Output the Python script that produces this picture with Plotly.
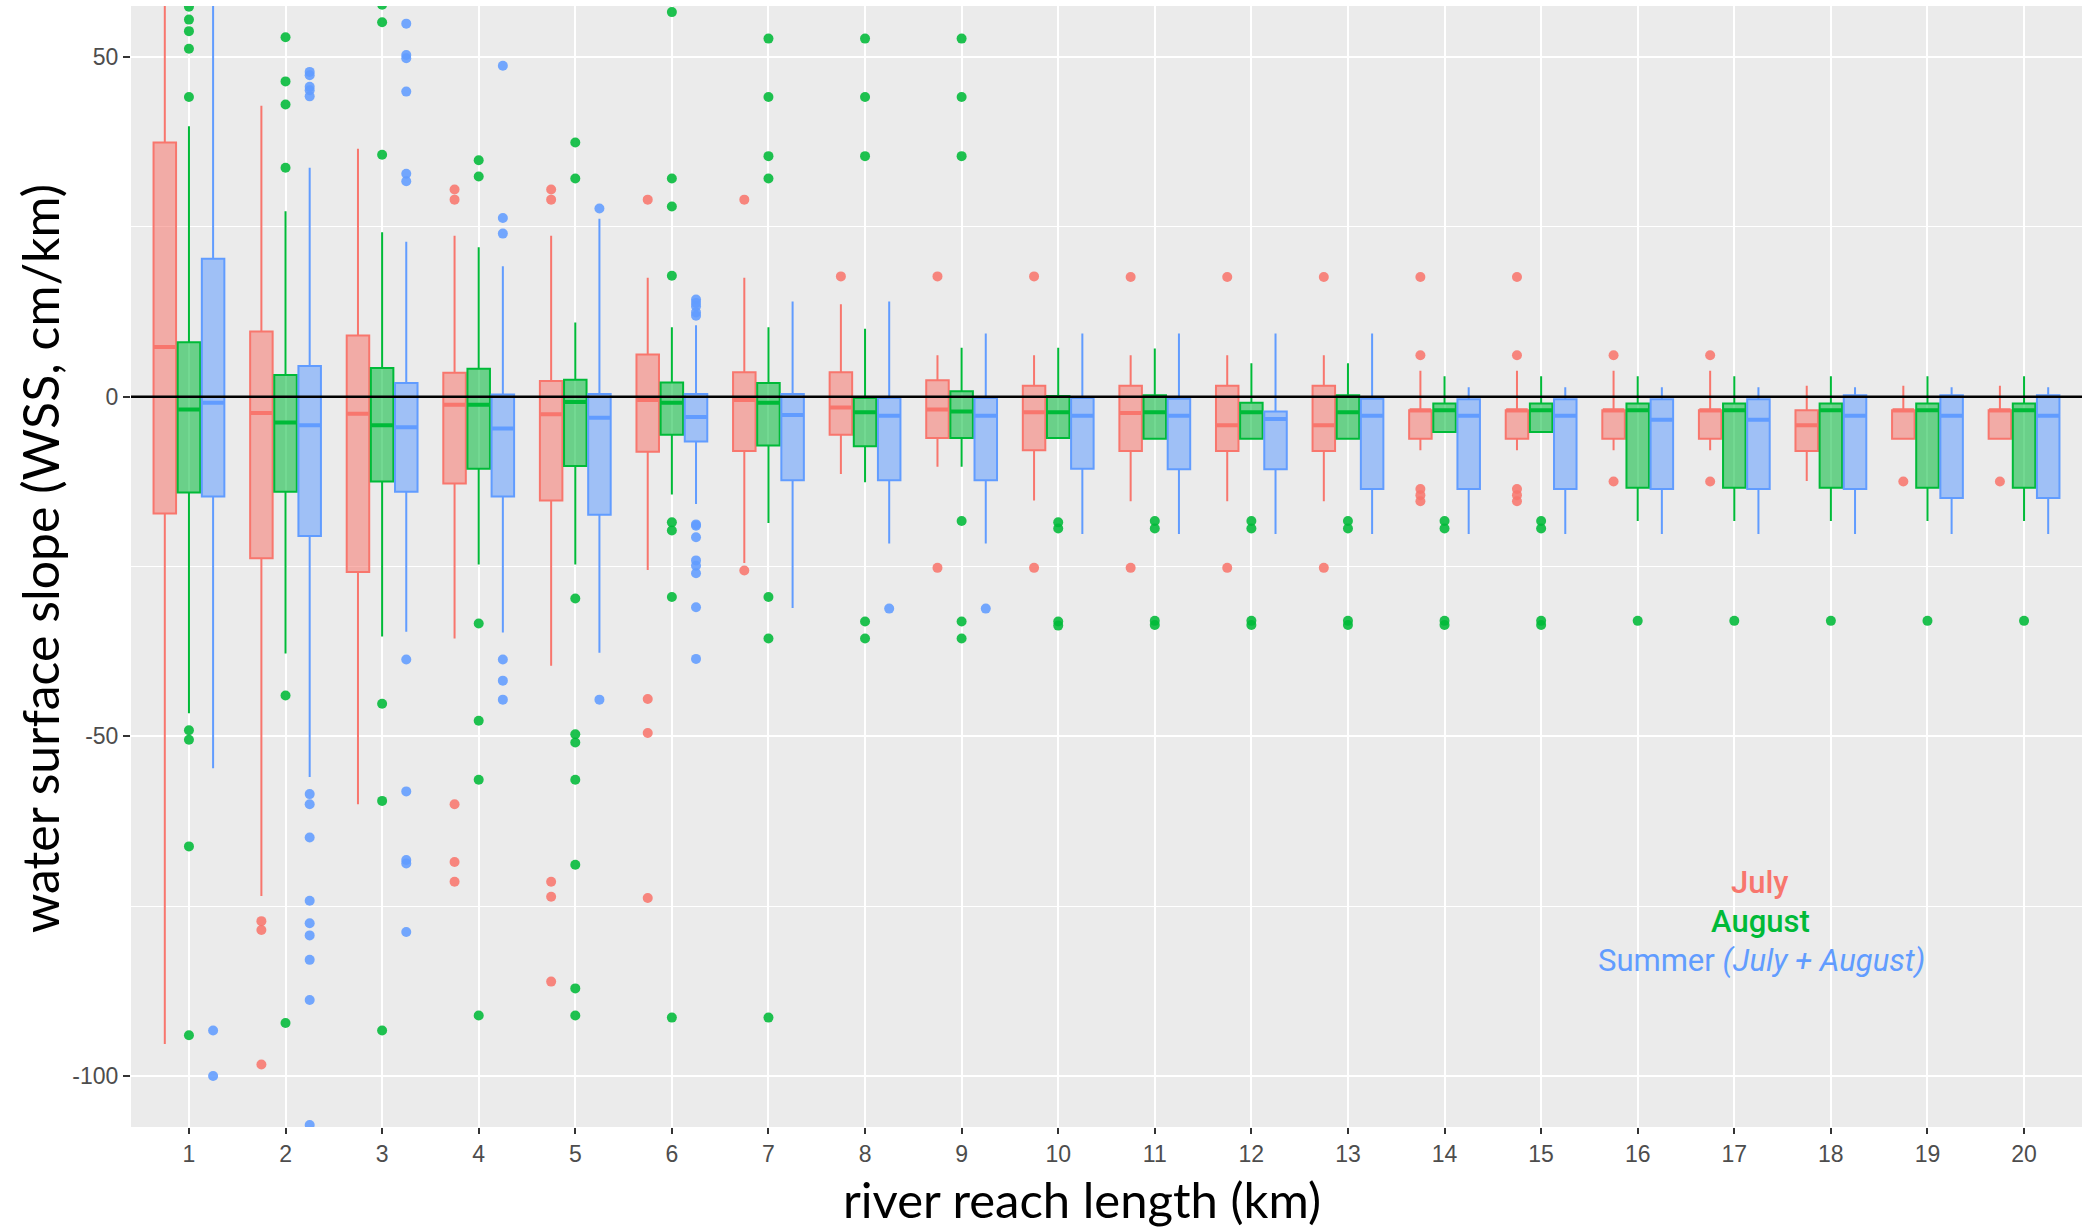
import plotly.graph_objects as go

# ---------------- data ----------------
CATEGORIES = list(range(1, 21))
X_TICK_LABELS = [str(c) for c in CATEGORIES]
Y_TICK_VALUES = [-100, -50, 0, 50]
Y_TICK_LABELS = ["-100", "-50", "0", "50"]
Y_MINOR_VALUES = [-75, -25, 25]

SERIES_NAMES = ["July", "August", "Summer"]

# July
JULY_Q3 = [37.4, 9.6, 9.0, 3.5, 2.3, 6.2, 3.6, 3.6, 2.4, 1.6, 1.6, 1.6, 1.6, -2.0, -2.0, -2.0, -2.0, -2.0, -2.0, -2.0]
JULY_MED = [7.3, -2.4, -2.5, -1.2, -2.6, -0.5, -0.5, -1.6, -1.9, -2.3, -2.4, -4.2, -4.2, -2.0, -2.0, -2.0, -2.0, -4.2, -2.0, -2.0]
JULY_Q1 = [-17.2, -23.8, -25.8, -12.8, -15.3, -8.1, -8.0, -5.6, -6.1, -7.9, -8.0, -8.0, -8.0, -6.2, -6.2, -6.2, -6.2, -8.0, -6.2, -6.2]
JULY_HI = [75.0, 42.8, 36.5, 23.7, 23.7, 17.5, 17.5, 13.6, 6.1, 6.1, 6.1, 6.1, 6.1, 3.8, 3.8, 3.8, 3.8, 1.6, 1.6, 1.6]
JULY_LO = [-95.3, -73.5, -60.0, -35.6, -39.6, -25.5, -24.5, -11.4, -10.3, -15.3, -15.4, -15.4, -15.4, -7.9, -7.9, -7.9, -7.9, -12.4, -6.2, -6.2]
JULY_OUTLIERS = {
    2: [-77.2, -78.5, -98.3],
    4: [30.5, 29.0, -60.0, -68.5, -71.4],
    5: [30.5, 29.0, -71.4, -73.6, -86.1],
    6: [29.0, -44.5, -49.5, -73.8],
    7: [29.0, -25.6],
    8: [17.7],
    9: [17.7, -25.2],
    10: [17.7, -25.2],
    11: [17.6, -25.2],
    12: [17.6, -25.2],
    13: [17.6, -25.2],
    14: [17.6, 6.1, -13.6, -14.5, -15.4],
    15: [17.6, 6.1, -13.6, -14.5, -15.4],
    16: [6.1, -12.5],
    17: [6.1, -12.5],
    19: [-12.5],
    20: [-12.5],
}

# August
AUG_Q3 = [8.0, 3.2, 4.2, 4.1, 2.5, 2.1, 2.0, -0.2, 0.8, 0.1, 0.2, -0.9, 0.2, -1.0, -1.0, -1.0, -1.0, -1.0, -1.0, -1.0]
AUG_MED = [-1.9, -3.8, -4.2, -1.2, -0.8, -0.9, -0.9, -2.3, -2.2, -2.3, -2.3, -2.3, -2.3, -2.0, -2.0, -2.0, -2.0, -2.0, -2.0, -2.0]
AUG_Q1 = [-14.1, -14.0, -12.5, -10.6, -10.2, -5.6, -7.2, -7.3, -6.1, -6.1, -6.2, -6.2, -6.2, -5.2, -5.2, -13.4, -13.4, -13.4, -13.4, -13.4]
AUG_HI = [39.8, 27.3, 24.2, 22.0, 10.9, 10.2, 10.2, 10.0, 7.2, 7.2, 7.1, 4.9, 4.9, 3.0, 3.0, 3.0, 3.0, 3.0, 3.0, 3.0]
AUG_LO = [-46.6, -37.8, -35.3, -24.7, -24.7, -14.4, -18.6, -12.6, -10.3, -6.1, -6.2, -6.2, -6.2, -5.2, -5.2, -18.3, -18.3, -18.3, -18.3, -18.3]
AUG_OUTLIERS = {
    1: [57.4, 55.5, 53.8, 51.2, 44.1, -49.1, -50.5, -66.2, -94.0],
    2: [52.9, 46.4, 43.0, 33.7, -44.0, -92.2],
    3: [57.7, 55.1, 35.6, -45.2, -59.5, -93.3],
    4: [34.8, 32.4, -33.4, -47.7, -56.4, -91.1],
    5: [37.4, 32.1, -29.7, -49.7, -50.9, -56.4, -68.9, -87.1, -91.1],
    6: [56.6, 32.1, 28.0, 17.8, -18.5, -19.7, -29.5, -91.4],
    7: [52.7, 44.1, 35.4, 32.1, -29.5, -35.6, -91.4],
    8: [52.7, 44.1, 35.4, -33.1, -35.6],
    9: [52.7, 44.1, 35.4, -18.3, -33.1, -35.6],
    10: [-18.5, -19.4, -33.1, -33.7],
    11: [-18.3, -19.4, -33.0, -33.6],
    12: [-18.3, -19.4, -33.0, -33.6],
    13: [-18.3, -19.4, -33.0, -33.6],
    14: [-18.3, -19.4, -33.0, -33.6],
    15: [-18.3, -19.4, -33.0, -33.6],
    16: [-33.0],
    17: [-33.0],
    18: [-33.0],
    19: [-33.0],
    20: [-33.0],
}

# Summer (July + August)
SUM_Q3 = [20.3, 4.5, 2.0, 0.3, 0.4, 0.4, 0.4, -0.2, -0.2, -0.2, -0.3, -2.2, -0.3, -0.4, -0.4, -0.4, -0.4, 0.2, 0.2, 0.2]
SUM_MED = [-0.9, -4.2, -4.5, -4.7, -3.1, -3.0, -2.7, -2.8, -2.8, -2.8, -2.8, -3.3, -2.8, -2.8, -2.8, -3.4, -3.4, -2.8, -2.8, -2.8]
SUM_Q1 = [-14.7, -20.5, -14.0, -14.7, -17.4, -6.6, -12.3, -12.3, -12.3, -10.6, -10.7, -10.7, -13.6, -13.6, -13.6, -13.6, -13.6, -13.6, -14.9, -14.9]
SUM_HI = [75.0, 33.7, 22.8, 19.2, 26.2, 10.5, 14.0, 14.0, 9.3, 9.3, 9.3, 9.3, 9.3, 1.4, 1.4, 1.4, 1.4, 1.4, 1.4, 1.4]
SUM_LO = [-54.7, -56.0, -34.6, -34.7, -37.7, -15.8, -31.1, -21.6, -21.6, -20.2, -20.2, -20.2, -20.2, -20.2, -20.2, -20.2, -20.2, -20.2, -20.2, -20.2]
SUM_OUTLIERS = {
    1: [-93.3, -100.0],
    2: [47.8, 47.3, 45.6, 45.1, 44.2, -58.5, -60.0, -64.9, -74.2, -77.5, -79.3, -82.9, -88.8, -107.2],
    3: [54.9, 50.3, 49.8, 44.9, 32.8, 31.7, -38.7, -58.1, -68.2, -68.7, -78.8],
    4: [48.7, 26.3, 24.0, -38.7, -41.8, -44.6],
    5: [27.7, -44.6],
    6: [14.3, 13.8, 13.3, 12.4, 11.9, -18.8, -19.0, -20.7, -24.1, -24.9, -26.0, -31.0, -38.6],
    8: [-31.2],
    9: [-31.2],
}

# ---------------- style ----------------
COLORS = {"July": "#F8766D", "August": "#00BA38", "Summer": "#619CFF"}
FILLS = {"July": "rgba(248,118,109,0.55)", "August": "rgba(0,186,56,0.55)", "Summer": "rgba(97,156,255,0.55)"}
DODGE = {"July": -0.25, "August": 0.0, "Summer": 0.25}
BOX_WIDTH = 0.233

STATS = {
    "July": (JULY_Q1, JULY_MED, JULY_Q3, JULY_LO, JULY_HI, JULY_OUTLIERS),
    "August": (AUG_Q1, AUG_MED, AUG_Q3, AUG_LO, AUG_HI, AUG_OUTLIERS),
    "Summer": (SUM_Q1, SUM_MED, SUM_Q3, SUM_LO, SUM_HI, SUM_OUTLIERS),
}

W, H = 2084, 1231
PL, PR, PT, PB = 131, 2, 6, 104


def px_x(px):
    return (px - PL) / (W - PL - PR)


def px_y(py):
    return (H - PB - py) / (H - PT - PB)


fig = go.Figure()

for name in SERIES_NAMES:
    q1, med, q3, lo, hi, outl = STATS[name]
    xs = [c + DODGE[name] for c in CATEGORIES]
    fig.add_trace(go.Box(
        x=xs, q1=q1, median=med, q3=q3, lowerfence=lo, upperfence=hi,
        width=BOX_WIDTH, whiskerwidth=0, boxpoints=False,
        line=dict(color=COLORS[name], width=2), fillcolor=FILLS[name],
        name=name, hoverinfo="skip",
    ))
    # thicker median line
    fig.add_trace(go.Box(
        x=xs, q1=med, median=med, q3=med, lowerfence=med, upperfence=med,
        width=BOX_WIDTH * 0.96, whiskerwidth=0, boxpoints=False,
        line=dict(color=COLORS[name], width=4), fillcolor="rgba(0,0,0,0)",
        name=name + " median", hoverinfo="skip",
    ))
    ox, oy = [], []
    for c in CATEGORIES:
        for v in outl.get(c, []):
            ox.append(c + DODGE[name])
            oy.append(v)
    fig.add_trace(go.Scatter(
        x=ox, y=oy, mode="markers",
        marker=dict(color=COLORS[name], size=10, opacity=0.88, line=dict(width=0)),
        name=name + " outliers", hoverinfo="skip",
    ))

TICK_FONT = dict(family="Liberation Sans, Arial, sans-serif", size=23, color="#4D4D4D")

fig.update_layout(
    width=W, height=H,
    margin=dict(l=PL, r=PR, t=PT, b=PB, autoexpand=False),
    plot_bgcolor="#EBEBEB", paper_bgcolor="white",
    showlegend=False, boxmode="overlay",
    xaxis=dict(
        range=[0.4, 20.6], tickmode="array", tickvals=CATEGORIES, ticktext=X_TICK_LABELS,
        showgrid=True, gridcolor="white", gridwidth=2, zeroline=False, showline=False,
        ticks="outside", ticklen=6, tickwidth=2, tickcolor="#333333", tickfont=TICK_FONT,
    ),
    yaxis=dict(
        range=[-107.5, 57.5], tickmode="array", tickvals=Y_TICK_VALUES, ticktext=Y_TICK_LABELS,
        showgrid=True, gridcolor="white", gridwidth=2, zeroline=False, showline=False,
        ticks="outside", ticklen=7, tickwidth=2, tickcolor="#333333", tickfont=TICK_FONT,
        minor=dict(tickvals=Y_MINOR_VALUES, showgrid=True, gridcolor="white", gridwidth=1, ticks=""),
    ),
)

fig.add_shape(type="line", xref="paper", yref="y", x0=0, x1=1, y0=0, y1=0,
              line=dict(color="black", width=2.5), layer="above")

TITLE_FONT = dict(family="Lato, sans-serif", size=49, color="black")
fig.add_annotation(text="river reach length (km)", xref="paper", yref="paper",
                   x=px_x(1082), y=px_y(1199), xanchor="center", yanchor="middle",
                   showarrow=False, font=TITLE_FONT)
fig.add_annotation(text="water surface slope (WSS, cm/km)", xref="paper", yref="paper",
                   x=px_x(40), y=px_y(559), xanchor="center", yanchor="middle",
                   textangle=-90, showarrow=False, font=dict(family="Lato, sans-serif", size=50, color="black"))

LEG_FONT = "Roboto, sans-serif"
fig.add_annotation(text="July", xref="paper", yref="paper", x=px_x(1760), y=px_y(882),
                   xanchor="center", yanchor="middle", showarrow=False,
                   font=dict(family=LEG_FONT, size=31, color=COLORS["July"], weight=500))
fig.add_annotation(text="August", xref="paper", yref="paper", x=px_x(1760), y=px_y(921),
                   xanchor="center", yanchor="middle", showarrow=False,
                   font=dict(family=LEG_FONT, size=31, color=COLORS["August"], weight=500))
fig.add_annotation(text="Summer <i>(July + August)</i>", xref="paper", yref="paper",
                   x=px_x(1761), y=px_y(960), xanchor="center", yanchor="middle", showarrow=False,
                   font=dict(family=LEG_FONT, size=31, color=COLORS["Summer"]))

fig.write_html("out.html", config={"displayModeBar": False},
               post_script="document.body.style.margin='0';document.body.style.overflow='hidden';")
